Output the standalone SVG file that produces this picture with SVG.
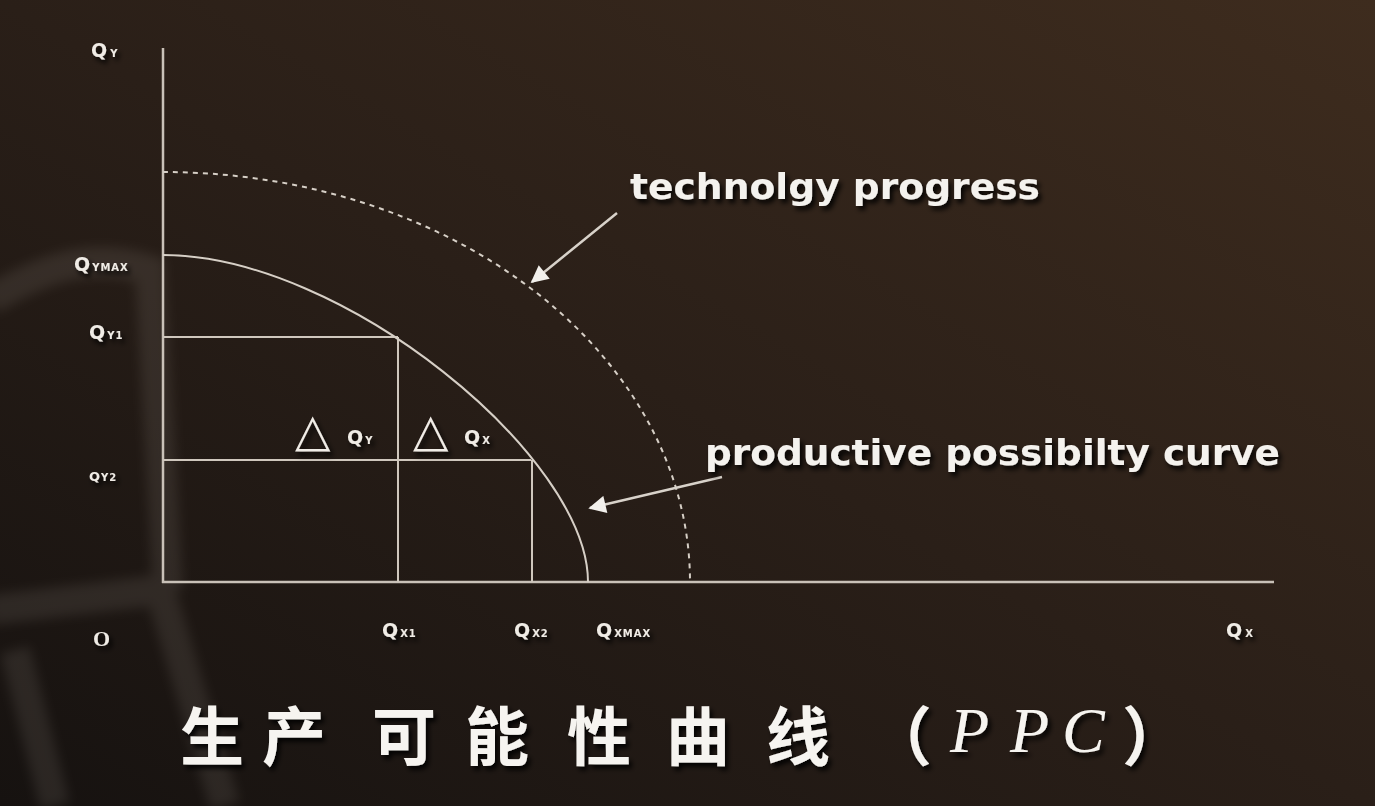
<svg xmlns="http://www.w3.org/2000/svg" width="1375" height="806" viewBox="0 0 1375 806">
<defs>
<linearGradient id="bg" x1="1" y1="0" x2="0" y2="1">
<stop offset="0" stop-color="#3e2c1e"/>
<stop offset="0.5" stop-color="#2a1f18"/>
<stop offset="1" stop-color="#161210"/>
</linearGradient>
<filter id="sh" x="-10%" y="-30%" width="130%" height="180%">
<feDropShadow dx="3" dy="4" stdDeviation="2.5" flood-color="#000" flood-opacity="0.9"/>
</filter>
<filter id="blur"><feGaussianBlur stdDeviation="6"/></filter>
<marker id="ah" viewBox="0 0 10 10" refX="9" refY="5" markerWidth="8" markerHeight="7" markerUnits="strokeWidth" orient="auto">
<path d="M0,0 L10,5 L0,10 Z" fill="#f2f0ec"/>
</marker>
<style>
.ax{stroke:#c9c1b8;stroke-width:2.5;fill:none}
.ln{stroke:#cfc7bd;stroke-width:2;fill:none}
.ppc{stroke:#d6cfc6;stroke-width:2;fill:none}
.dash{stroke:#d6cfc6;stroke-width:2;fill:none;stroke-dasharray:5 5}
.arr{stroke:#d8d2ca;stroke-width:2.5;fill:none}
.lab{font-family:"DejaVu Sans","Liberation Sans",sans-serif;font-weight:bold;fill:#f0ece6;font-size:19px}
.sub{font-size:10px;letter-spacing:1px}
.big{font-family:"DejaVu Sans","Liberation Sans",sans-serif;font-weight:bold;fill:#f4f2ee;font-size:36px}
.tri{font-family:"DejaVu Sans",sans-serif;fill:#f0ece6;font-size:46px}
.cn{font-family:"Noto Sans CJK SC",sans-serif;font-weight:bold;fill:#f6f4f0;font-size:64px}
.pp{font-family:"Liberation Serif",serif;font-style:italic;fill:#f6f4f0;font-size:64px}
</style>
</defs>
<rect width="1375" height="806" fill="url(#bg)"/>
<g id="decor" opacity="0.13" fill="none" stroke="#b0a89f" stroke-width="30" filter="url(#blur)">
<path d="M-10,300 C40,270 90,250 150,270 L168,590"/>
<path d="M-10,610 L160,590 L225,806"/>
<path d="M15,650 L55,806"/>
</g>
<g id="axes">
<line class="ax" x1="163" y1="48" x2="163" y2="583"/>
<line class="ax" x1="162" y1="582" x2="1274" y2="582"/>
</g>
<g id="grid">
<line class="ln" x1="163" y1="337" x2="398" y2="337"/>
<line class="ln" x1="398" y1="337" x2="398" y2="582"/>
<line class="ln" x1="163" y1="460" x2="531" y2="460"/>
<line class="ln" x1="532" y1="460" x2="532" y2="582"/>
</g>
<g id="curves">
<path id="ppc" class="ppc" d="M163,255 C343,255 588,457 588,582"/>
<path id="tech" class="dash" d="M163,172 A527,410 0 0 1 690,582"/>
</g>
<g id="connectors">
<line class="arr" x1="617" y1="213" x2="532" y2="282" marker-end="url(#ah)"/>
<line class="arr" x1="722" y1="477" x2="590" y2="508" marker-end="url(#ah)"/>
</g>
<g id="labels" filter="url(#sh)">
<text class="lab" x="91" y="57">Q<tspan class="sub" dx="3">Y</tspan></text>
<text class="lab" x="74" y="271">Q<tspan class="sub" dx="2">YMAX</tspan></text>
<text class="lab" x="89" y="339">Q<tspan class="sub" dx="2">Y1</tspan></text>
<text class="lab" x="89" y="481" style="font-size:13px">Q<tspan class="sub" dx="1">Y2</tspan></text>
<text class="lab" x="93" y="646" style="font-family:'Liberation Serif',serif;font-size:22px">O</text>
<text class="lab" x="382" y="637">Q<tspan class="sub" dx="2">X1</tspan></text>
<text class="lab" x="514" y="637">Q<tspan class="sub" dx="2">X2</tspan></text>
<text class="lab" x="596" y="637">Q<tspan class="sub" dx="2">XMAX</tspan></text>
<text class="lab" x="1226" y="637">Q<tspan class="sub" dx="3">X</tspan></text>
</g>
<g id="deltas" filter="url(#sh)">
<text class="tri" x="295" y="446">△</text>
<text class="lab" x="347" y="444">Q<tspan class="sub" dx="2">Y</tspan></text>
<text class="tri" x="413" y="446">△</text>
<text class="lab" x="464" y="444">Q<tspan class="sub" dx="2">X</tspan></text>
</g>
<g id="annotations" filter="url(#sh)">
<text class="big" x="630" y="199" textLength="410" lengthAdjust="spacingAndGlyphs">technolgy progress</text>
<text class="big" x="705" y="465" textLength="575" lengthAdjust="spacingAndGlyphs">productive possibilty curve</text>
</g>
<g id="title" filter="url(#sh)">
<text class="cn" y="760"><tspan x="180">生</tspan><tspan x="262">产</tspan><tspan x="372">可</tspan><tspan x="465">能</tspan><tspan x="567">性</tspan><tspan x="666">曲</tspan><tspan x="766">线</tspan><tspan x="868">（</tspan></text>
<text class="pp" y="752"><tspan x="950">P</tspan><tspan x="1010">P</tspan><tspan x="1062">C</tspan></text>
<text class="cn" y="760" x="1122">）</text>
</g>
</svg>
